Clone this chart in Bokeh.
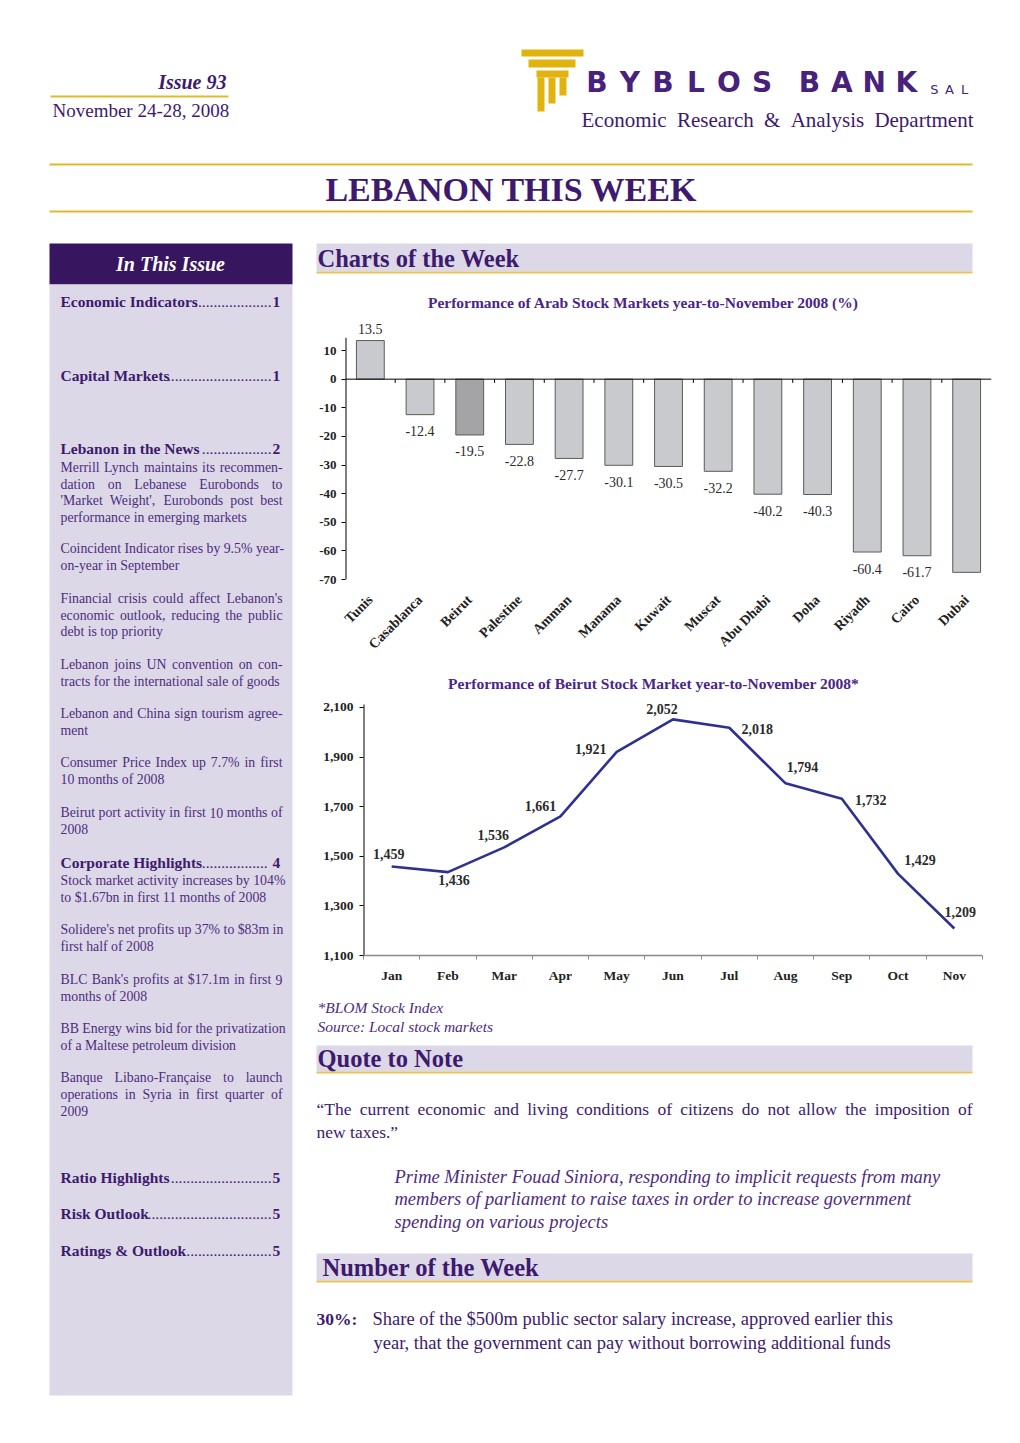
import math
from bokeh.plotting import figure
from bokeh.models import (Range1d, FixedTicker, Span, LabelSet, ColumnDataSource,
                          NumeralTickFormatter)
from bokeh.layouts import column, row
from bokeh.core.properties import value
from bokeh.embed import file_html
from bokeh.resources import INLINE

SERIF = "Liberation Serif"
SANS = "DejaVu Sans"

# ---------------- data ----------------
markets = ["Tunis", "Casablanca", "Beirut", "Palestine", "Amman", "Manama", "Kuwait",
           "Muscat", "Abu Dhabi", "Doha", "Riyadh", "Cairo", "Dubai"]
market_perf = [13.5, -12.4, -19.5, -22.8, -27.7, -30.1, -30.5, -32.2, -40.2, -40.3,
               -60.4, -61.7, -67.5]
perf_ticks = [-70, -60, -50, -40, -30, -20, -10, 0, 10]

months = ["Jan", "Feb", "Mar", "Apr", "May", "Jun", "Jul", "Aug", "Sep", "Oct", "Nov"]
blom_index = [1459, 1436, 1536, 1661, 1921, 2052, 2018, 1794, 1732, 1429, 1209]
blom_ticks = [1100, 1300, 1500, 1700, 1900, 2100]

# label placement (screen px) for the line chart labels
blom_label_dx = [-3, 6, -11, -20, -26, -11, 28, 17, 29, 22, 6]
blom_label_dy = [12, -8, 12, 10, 3, 10, -1, 16, -1, 14, 16]

# ---------------- styles ----------------
PURPLE = "#3d1a6e"
PURPLE_T = "#4e2c80"
TITLE_P = "#4a2687"
BOX = "#37155f"
LAV = "#dcd8e7"
GOLD = "#e2b92b"
GOLD_L = "#e6c457"
LOGO_P = "#47217b"
LOGO_G = "#e0b30e"

# approximate Times glyph widths (1/1000 em), used only to space words
_W = {' ': 250, '!': 333, '"': 408, '$': 500, '%': 833, '&': 778, "'": 180, '(': 333,
      ')': 333, '*': 500, ',': 250, '-': 333, '.': 250, '/': 278, ':': 278, ';': 278,
      '?': 444, '\u201c': 444, '\u201d': 444, '\u2019': 333, '\u00e7': 444}
for _c in "0123456789":
    _W[_c] = 500
_W.update(dict(zip("ABCDEFGHIJKLMNOPQRSTUVWXYZ",
                   [722, 667, 667, 722, 611, 556, 722, 722, 333, 389, 722, 611, 889, 722,
                    722, 556, 722, 667, 556, 611, 722, 722, 944, 722, 722, 611])))
_W.update(dict(zip("abcdefghijklmnopqrstuvwxyz",
                   [444, 500, 444, 500, 444, 333, 500, 500, 278, 278, 500, 278, 778, 500,
                    500, 500, 500, 333, 389, 278, 500, 500, 722, 500, 500, 444])))


def tw(s, size, style="normal"):
    f = {"normal": 1.0, "italic": 0.965, "bold": 1.05, "bold italic": 1.02}[style]
    return sum(_W.get(c, 500) for c in s) * size / 1000.0 * f


def page_fig(x0, x1, y0, y1):
    p = figure(width=x1 - x0, height=y1 - y0, x_range=Range1d(x0, x1),
               y_range=Range1d(y1, y0), x_axis_type=None, y_axis_type=None,
               toolbar_location=None, output_backend="svg", min_border=0)
    p.outline_line_color = None
    p.background_fill_color = "white"
    p.border_fill_color = "white"
    p.frame_align = False
    return p


def txt(p, x, y, s, size, color, style="normal", align="left", font=SERIF):
    p.text(x=[x], y=[y], text=[s], text_font=value(font), text_font_size=f"{size}px",
           text_color=color, text_font_style=style, text_align=align,
           text_baseline="middle")


def justified(p, x0, x1, y, s, size, color, style="normal"):
    """Spread the words of a line so that it fills x0..x1 (if it fits)."""
    ws = s.split(" ")
    wid = [tw(w, size, style) for w in ws]
    space = tw(" ", size, style)
    gap = (x1 - x0 - sum(wid)) / (len(ws) - 1) if len(ws) > 1 else 0
    if len(ws) < 2 or gap < space:
        txt(p, x0, y, s, size, color, style)
        return
    xs, cur = [], x0
    for wd in wid:
        xs.append(cur)
        cur += wd + gap
    common = dict(text_font=value(SERIF), text_font_size=f"{size}px", text_color=color,
                  text_font_style=style, text_baseline="middle")
    p.text(x=xs[:-1], y=[y] * (len(ws) - 1), text=ws[:-1], text_align="left", **common)
    p.text(x=[x1], y=[y], text=[ws[-1]], text_align="right", **common)


def box(p, l, r, t, b, color):
    p.quad(left=[l], right=[r], top=[t], bottom=[b], fill_color=color, line_color=None)


def hline(p, x0, x1, y, color, w=2):
    p.segment(x0=[x0], y0=[y], x1=[x1], y1=[y], line_color=color, line_width=w)


# ---------------- header ----------------
hd = page_fig(0, 1020, 0, 240)
txt(hd, 226, 81, "Issue 93", 20, PURPLE, "bold italic", "right")
hline(hd, 50, 228, 96, GOLD, 2)
txt(hd, 52, 110, "November 24-28, 2008", 19, PURPLE)
for (l, r, t, b) in [(521, 583, 49, 56), (528, 575, 59, 67), (536, 568, 70, 77),
                     (537, 544, 77, 111), (548, 555, 77, 103), (559, 566, 77, 95)]:
    box(hd, l, r, t, b, LOGO_G)
for i, ch in enumerate("BYBLOS"):
    txt(hd, 596.5 + 33 * i, 82, ch, 28, LOGO_P, "bold", "center", SANS)
for i, ch in enumerate("BANK"):
    txt(hd, 809 + 32.3 * i, 82, ch, 28, LOGO_P, "bold", "center", SANS)
for i, ch in enumerate("SAL"):
    txt(hd, 934 + 15 * i, 89, ch, 13, LOGO_P, "normal", "center", SANS)
justified(hd, 581, 973, 119, "Economic Research & Analysis Department", 21, PURPLE)
hline(hd, 49, 972, 164, GOLD, 2)
txt(hd, 511, 189, "LEBANON THIS WEEK", 34, PURPLE, "bold", "center")
hline(hd, 49, 972, 211, GOLD, 2)

# ---------------- sidebar ----------------
sb = page_fig(0, 300, 240, 1440)
box(sb, 49, 292, 243, 284, BOX)
box(sb, 49, 292, 284, 1395, LAV)
txt(sb, 170, 263, "In This Issue", 20, "white", "bold italic", "center")

headings = [
    ("Economic Indicators", 20, "1", 301),
    ("Capital Markets", 27, "1", 375),
    ("Lebanon in the News", 18, "2", 448),
    ("Corporate Highlights", 17, "4", 862),
    ("Ratio Highlights", 26, "5", 1177),
    ("Risk Outlook", 32, "5", 1213),
    ("Ratings & Outlook", 22, "5", 1250),
]
for (h, nd, num, y) in headings:
    txt(sb, 60, y, h, 15.5, PURPLE, "bold")
    txt(sb, 271, y, "." * nd + (" " if num == "4" else ""), 15.5, PURPLE, "normal", "right")
    txt(sb, 272, y, num, 15.5, PURPLE, "bold")

items = [
    (467, ["Merrill Lynch maintains its recommen-", "dation on Lebanese Eurobonds to",
           "'Market Weight', Eurobonds post best", "performance in emerging markets"]),
    (548, ["Coincident Indicator rises by 9.5% year-", "on-year in September"]),
    (598, ["Financial crisis could affect Lebanon's", "economic outlook, reducing the public",
           "debt is top priority"]),
    (664, ["Lebanon joins UN convention on con-", "tracts for the international sale of goods"]),
    (713, ["Lebanon and China sign tourism agree-", "ment"]),
    (762, ["Consumer Price Index up 7.7% in first", "10 months of 2008"]),
    (812, ["Beirut port activity in first 10 months of", "2008"]),
    (880, ["Stock market activity increases by 104%", "to $1.67bn in first 11 months of 2008"]),
    (929, ["Solidere's net profits up 37% to $83m in", "first half of 2008"]),
    (979, ["BLC Bank's profits at $17.1m in first 9", "months of 2008"]),
    (1028, ["BB Energy wins bid for the privatization", "of a Maltese petroleum division"]),
    (1077, ["Banque Libano-Française to launch", "operations in Syria in first quarter of",
            "2009"]),
]
for (y0, lines) in items:
    for k, line in enumerate(lines):
        y = y0 + 16.5 * k
        if k == len(lines) - 1:
            txt(sb, 60, y, line, 13.8, PURPLE_T)
        else:
            justified(sb, 60, 282, y, line, 13.8, PURPLE_T)

# ---------------- right column: section header + chart 1 title ----------------
rt1 = page_fig(300, 1020, 240, 318)
box(rt1, 316, 972, 243, 271, LAV)
hline(rt1, 316, 972, 272, GOLD_L, 2)
txt(rt1, 317, 258, "Charts of the Week", 24.5, PURPLE, "bold")
txt(rt1, 643, 302, "Performance of Arab Stock Markets year-to-November 2008 (%)", 15.5,
    TITLE_P, "bold", "center")

# ---------------- chart 1: bars ----------------
idx1 = list(range(len(markets)))
bar_colors = ["#a4a4a7" if m == "Beirut" else "#c9cacd" for m in markets]
src1 = ColumnDataSource(dict(
    x=idx1, top=market_perf, color=bar_colors,
    label=[f"{v:.1f}" for v in market_perf],
    yoff=[12 if v > 0 else -16.5 for v in market_perf]))

c1 = figure(width=720, height=344, x_range=Range1d(-0.5, len(markets) - 0.5),
            y_range=Range1d(-70, 20.5), toolbar_location=None, output_backend="svg",
            min_border_left=45, min_border_right=29, min_border_top=2,
            min_border_bottom=83)
c1.frame_align = False
c1.outline_line_color = None
c1.xgrid.visible = False
c1.ygrid.visible = False
c1.vbar(x="x", top="top", bottom=0, width=0.56, fill_color="color",
        line_color="#5b5b5b", line_width=1, source=src1)
c1.add_layout(Span(location=0, dimension="width", line_color="black", line_width=1))
bounds1 = [i + 0.5 for i in idx1[:-1]]
c1.segment(x0=bounds1, y0=[0] * len(bounds1), x1=bounds1, y1=[-1.3] * len(bounds1),
           line_color="black", line_width=1)
# y axis line (ends just above the top tick)
c1.segment(x0=[-0.5], y0=[perf_ticks[0]], x1=[-0.5], y1=[14.5], line_color="black",
           line_width=2)
c1.add_layout(LabelSet(x="x", y="top", text="label", y_offset="yoff", source=src1,
                       text_align="center", text_baseline="middle",
                       text_font=value(SERIF), text_font_size="14px",
                       text_color="#2b2b2b"))

c1.xaxis.ticker = FixedTicker(ticks=idx1)
c1.xaxis.major_label_overrides = {i: m for i, m in enumerate(markets)}
c1.xaxis.major_label_orientation = math.pi / 4
c1.xaxis.axis_line_color = None
c1.xaxis.major_tick_line_color = None
c1.xaxis.minor_tick_line_color = None
c1.xaxis.major_label_standoff = 12
c1.xaxis.major_label_text_font = SERIF
c1.xaxis.major_label_text_font_style = "bold"
c1.xaxis.major_label_text_font_size = "14px"
c1.xaxis.major_label_text_color = "#222222"

c1.yaxis.ticker = FixedTicker(ticks=perf_ticks)
c1.yaxis.major_label_overrides = {t: str(t) for t in perf_ticks}
c1.yaxis.axis_line_color = None
c1.yaxis.major_tick_out = 4
c1.yaxis.major_tick_in = 0
c1.yaxis.minor_tick_line_color = None
c1.yaxis.major_label_standoff = 5
c1.yaxis.major_label_text_font = SERIF
c1.yaxis.major_label_text_font_style = "bold"
c1.yaxis.major_label_text_font_size = "13px"
c1.yaxis.major_label_text_color = "#222222"

# ---------------- chart 2 title ----------------
rt2 = page_fig(300, 1020, 662, 697)
txt(rt2, 653, 683, "Performance of Beirut Stock Market year-to-November 2008*", 15.5,
    TITLE_P, "bold", "center")

# ---------------- chart 2: line ----------------
idx2 = list(range(len(months)))
src2 = ColumnDataSource(dict(
    x=idx2, y=blom_index, label=[f"{v:,}" for v in blom_index],
    dx=blom_label_dx, dy=blom_label_dy))
c2 = figure(width=720, height=298, x_range=Range1d(-0.5, len(months) - 0.5),
            y_range=Range1d(1100, 2128), toolbar_location=None, output_backend="svg",
            min_border_left=63, min_border_right=38, min_border_top=3,
            min_border_bottom=40)
c2.frame_align = False
c2.outline_line_color = None
c2.xgrid.visible = False
c2.ygrid.visible = False
c2.line(x="x", y="y", line_color="#2e3192", line_width=2.6, source=src2)
c2.segment(x0=[-0.5], y0=[blom_ticks[0]], x1=[-0.5], y1=[2112], line_color="black",
           line_width=2)
c2.add_layout(LabelSet(x="x", y="y", text="label", x_offset="dx", y_offset="dy",
                       source=src2, text_align="center", text_baseline="middle",
                       text_font=value(SERIF), text_font_style="bold",
                       text_font_size="14px", text_color="#2b2b2b"))

c2.xaxis.ticker = FixedTicker(ticks=idx2,
                              minor_ticks=[i - 0.5 for i in range(len(months) + 1)])
c2.xaxis.major_label_overrides = {i: m for i, m in enumerate(months)}
c2.xaxis.axis_line_color = "#8a8a8a"
c2.xaxis.axis_line_width = 1.5
c2.xaxis.major_tick_line_color = None
c2.xaxis.minor_tick_line_color = "#8a8a8a"
c2.xaxis.minor_tick_out = 4
c2.xaxis.minor_tick_in = 0
c2.xaxis.major_label_standoff = 6
c2.xaxis.major_label_text_font = SERIF
c2.xaxis.major_label_text_font_style = "bold"
c2.xaxis.major_label_text_font_size = "13.5px"
c2.xaxis.major_label_text_color = "#222222"

c2.yaxis.ticker = FixedTicker(ticks=blom_ticks)
c2.yaxis.formatter = NumeralTickFormatter(format="0,0")
c2.yaxis.axis_line_color = None
c2.yaxis.major_tick_out = 4
c2.yaxis.major_tick_in = 0
c2.yaxis.minor_tick_line_color = None
c2.yaxis.major_label_standoff = 6
c2.yaxis.major_label_text_font = SERIF
c2.yaxis.major_label_text_font_style = "bold"
c2.yaxis.major_label_text_font_size = "13.5px"
c2.yaxis.major_label_text_color = "#222222"

# ---------------- right column bottom ----------------
rb = page_fig(300, 1020, 995, 1440)
txt(rb, 317, 1007, "*BLOM Stock Index", 15.5, PURPLE_T, "italic")
txt(rb, 317, 1026, "Source: Local stock markets", 15.5, PURPLE_T, "italic")
box(rb, 316, 972, 1045, 1071, LAV)
hline(rb, 316, 972, 1072, GOLD_L, 2)
txt(rb, 317, 1058, "Quote to Note", 24.5, PURPLE, "bold")
justified(rb, 316, 972, 1108,
          "\u201cThe current economic and living conditions of citizens do not allow the imposition of",
          17.5, PURPLE)
txt(rb, 316, 1131, "new taxes.\u201d", 17.5, PURPLE)
txt(rb, 394, 1176, "Prime Minister Fouad Siniora, responding to implicit requests from many",
    18.5, PURPLE_T, "italic")
txt(rb, 394, 1198, "members of parliament to raise taxes in order to increase government",
    18.5, PURPLE_T, "italic")
txt(rb, 394, 1221, "spending on various projects", 18.5, PURPLE_T, "italic")
box(rb, 316, 972, 1253, 1280, LAV)
hline(rb, 316, 972, 1281, GOLD_L, 2)
txt(rb, 322, 1267, "Number of the Week", 24.5, PURPLE, "bold")
txt(rb, 316, 1318, "30%:", 17.5, PURPLE, "bold")
txt(rb, 372, 1318, "Share of the $500m public sector salary increase, approved earlier this",
    18.5, PURPLE)
txt(rb, 373, 1342, "year, that the government can pay without borrowing additional funds",
    18.5, PURPLE)

right = column(rt1, c1, rt2, c2, rb, spacing=0)
page = column(hd, row(sb, right, spacing=0), spacing=0)

open("out.html", "w").write(file_html(page, INLINE, title="Lebanon This Week"))
